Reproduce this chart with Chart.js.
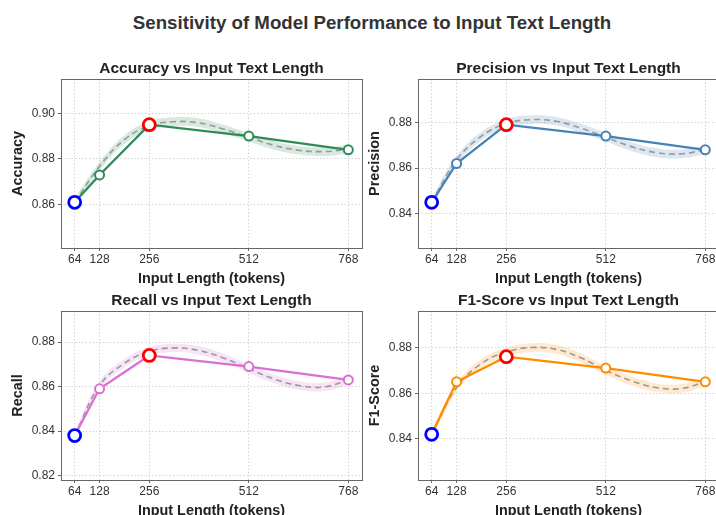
<!DOCTYPE html>
<html>
<head>
<meta charset="utf-8">
<script src="https://cdn.jsdelivr.net/npm/chart.js@4"></script>
<style>
body { margin: 0; width: 716px; height: 515px; overflow: hidden; background: #fff; position: relative; font-family: "Liberation Sans", Arial, sans-serif; }
.box { position: absolute; width: 372px; height: 250px; }
#suptitle { position: absolute; left: 0; top: 12px; width: 744px; text-align: center; font-weight: bold; font-size: 18.7px; color: #333; }
</style>
</head>
<body>
<div id="suptitle">Sensitivity of Model Performance to Input Text Length</div>
<div class="box" style="left:0;top:40px"><canvas id="c0" width="372" height="250"></canvas></div>
<div class="box" style="left:357px;top:40px"><canvas id="c1" width="372" height="250"></canvas></div>
<div class="box" style="left:0;top:272px"><canvas id="c2" width="372" height="250"></canvas></div>
<div class="box" style="left:357px;top:272px"><canvas id="c3" width="372" height="250"></canvas></div>
<script>
const tokens = [64, 128, 256, 512, 768];
const accuracy = [0.861, 0.873, 0.895, 0.890, 0.884];
const precision = [0.845, 0.862, 0.879, 0.874, 0.868];
const recall = [0.838, 0.859, 0.874, 0.869, 0.863];
const f1Score = [0.842, 0.865, 0.876, 0.871, 0.865];

// dashed trend curves
const trendTokens = [64, 128, 192, 256, 320, 384, 448, 512, 576, 640, 704, 768];
const accuracyTrend = [0.861, 0.8768, 0.8885, 0.8945, 0.8963, 0.8958, 0.893, 0.8895, 0.886, 0.8838, 0.8832, 0.8842];
const precisionTrend = [0.845, 0.8635, 0.874, 0.8795, 0.8812, 0.8805, 0.8775, 0.8735, 0.8695, 0.8668, 0.8662, 0.868];
const recallTrend = [0.838, 0.8605, 0.8705, 0.8758, 0.8774, 0.8762, 0.8728, 0.868, 0.8635, 0.8605, 0.8598, 0.863];
const f1Trend = [0.842, 0.8625, 0.873, 0.878, 0.880, 0.8792, 0.8755, 0.870, 0.8655, 0.8625, 0.862, 0.865];
const bandHalfWidth = 0.0019;

const xTicks = [64, 128, 256, 512, 768];
const accuracyTicks = [0.86, 0.88, 0.90];
const precisionTicks = [0.84, 0.86, 0.88];
const recallTicks = [0.82, 0.84, 0.86, 0.88];
const f1Ticks = [0.84, 0.86, 0.88];

Chart.defaults.font.family = '"Liberation Sans", Arial, sans-serif';

const framePlugin = {
    id: 'frame',
    beforeDatasetsDraw(chart) {
        const a = chart.chartArea
        const ctx = chart.ctx
        ctx.save()
        ctx.strokeStyle = '#666'
        ctx.lineWidth = 1
        ctx.strokeRect(a.left + 0.5, a.top + 0.5, a.right - a.left, a.bottom - a.top)
        ctx.restore()
    }
};

function makePlot(id, title, label, values, trend, yTicks, color) {
    const iMin = values.indexOf(Math.min(...values))
    const iMax = values.indexOf(Math.max(...values))
    const edge = values.map((v, i) => i == iMin ? '#0000ff' : (i == iMax ? '#ff0000' : color))
    const radius = values.map((v, i) => (i == iMin || i == iMax) ? 6 : 4.5)
    const bw = values.map((v, i) => (i == iMin || i == iMax) ? 2.8 : 2)
    const xRange = tokens[tokens.length - 1] - tokens[0]
    const lo = Math.min(...values) - 0.02
    const hi = Math.max(...values) + 0.02
    const gridOpts = { color: '#c8c8c8', lineWidth: 0.8, tickLength: 3, tickColor: '#666', tickBorderDash: [], tickWidth: 1 }
    const borderOpts = { display: false, dash: [1.5, 2] }

    new Chart(document.getElementById(id), {
        type: 'line',
        data: {
            datasets: [{
                data: tokens.map((t, i) => ({ x: t, y: values[i] })),
                borderColor: color,
                borderWidth: 2.3,
                tension: 0,
                pointBackgroundColor: '#ffffff',
                pointBorderColor: edge,
                pointRadius: radius,
                pointBorderWidth: bw
            }, {
                data: trendTokens.map((t, i) => ({ x: t, y: trend[i] })),
                borderColor: 'rgba(140,140,140,0.85)',
                borderWidth: 1.6,
                borderDash: [6, 4],
                tension: 0.4,
                pointRadius: 0
            }, {
                data: trendTokens.map((t, i) => ({ x: t, y: trend[i] + bandHalfWidth })),
                borderWidth: 0,
                borderColor: 'rgba(0,0,0,0)',
                backgroundColor: color + '30',
                tension: 0.4,
                pointRadius: 0,
                fill: '+1'
            }, {
                data: trendTokens.map((t, i) => ({ x: t, y: trend[i] - bandHalfWidth })),
                borderWidth: 0,
                borderColor: 'rgba(0,0,0,0)',
                tension: 0.4,
                pointRadius: 0,
                fill: false
            }]
        },
        options: {
            responsive: false,
            animation: false,
            devicePixelRatio: 1,
            layout: { padding: { left: 0, right: 10, top: 0, bottom: 0 } },
            plugins: {
                legend: { display: false },
                tooltip: { enabled: false },
                title: {
                    display: true,
                    fullSize: false,
                    text: title,
                    color: '#222',
                    font: { size: 15.5, weight: 'bold' },
                    padding: { top: 19, bottom: 1.4 }
                }
            },
            scales: {
                x: {
                    type: 'linear',
                    min: tokens[0] - 0.05 * xRange,
                    max: tokens[tokens.length - 1] + 0.05 * xRange,
                    afterBuildTicks: s => { s.ticks = xTicks.map(v => ({ value: v })) },
                    afterFit: s => { s.height = 42 },
                    ticks: { color: '#333', font: { size: 12 }, padding: 1, maxRotation: 0, autoSkip: false, callback: v => v },
                    grid: gridOpts,
                    border: borderOpts,
                    title: { display: true, text: 'Input Length (tokens)', color: '#222', font: { size: 14.4, weight: 'bold' }, padding: { top: 0, bottom: 2.6 } }
                },
                y: {
                    min: lo,
                    max: hi,
                    afterBuildTicks: s => { s.ticks = yTicks.map(v => ({ value: v })) },
                    afterFit: s => { s.width = 61 },
                    ticks: { color: '#333', font: { size: 12 }, padding: 3, callback: v => v.toFixed(2) },
                    grid: gridOpts,
                    border: borderOpts,
                    title: { display: true, text: label, color: '#222', font: { size: 14.4, weight: 'bold' }, padding: { top: 9.6, bottom: 0 } }
                }
            }
        },
        plugins: [framePlugin]
    });
}

makePlot('c0', 'Accuracy vs Input Text Length', 'Accuracy', accuracy, accuracyTrend, accuracyTicks, '#2e8b57')
makePlot('c1', 'Precision vs Input Text Length', 'Precision', precision, precisionTrend, precisionTicks, '#4682b4')
makePlot('c2', 'Recall vs Input Text Length', 'Recall', recall, recallTrend, recallTicks, '#da70d6')
makePlot('c3', 'F1-Score vs Input Text Length', 'F1-Score', f1Score, f1Trend, f1Ticks, '#ff8c00')
</script>
</body>
</html>
